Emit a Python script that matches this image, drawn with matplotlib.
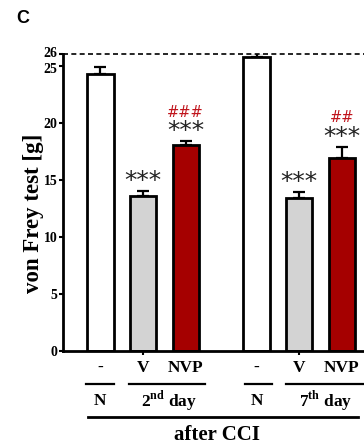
import matplotlib
matplotlib.use("Agg")
import matplotlib.pyplot as plt
import matplotlib.transforms as mtransforms

plt.rcParams['font.family'] = ['Liberation Serif', 'DejaVu Serif']
plt.rcParams['font.weight'] = 'bold'
plt.rcParams['mathtext.fontset'] = 'custom'
plt.rcParams['mathtext.bf'] = 'Liberation Serif:bold'
plt.rcParams['mathtext.rm'] = 'Liberation Serif:bold'

# data
groups = ["-", "V", "NVP", "-", "V", "NVP"]
means = [24.3, 13.6, 18.1, 25.8, 13.4, 16.9]
sems = [0.6, 0.4, 0.3, 0.3, 0.55, 1.0]
stars = ["", "***", "***", "", "***", "***"]
hashes = ["", "", "###", "", "", "##"]
yticks = [0, 5, 10, 15, 20, 25, 26]

pos = [0, 1, 2, 3.66, 4.66, 5.66]
fills = ["white", "#d3d3d3", "#a50000", "white", "#d3d3d3", "#a50000"]

fig = plt.figure(figsize=(3.64, 4.46), dpi=100)
ax = fig.add_axes([0.173, 0.213, 0.83, 0.665])

ax.bar(pos, means, width=0.62, color=fills, edgecolor="black", linewidth=2, zorder=2)
ax.errorbar(pos, means, yerr=[[0] * len(sems), sems], fmt="none", ecolor="black",
            elinewidth=1.6, capsize=4.5, capthick=1.6, zorder=1)

# significance marks
for x, m, s, st, h in zip(pos, means, sems, stars, hashes):
    if st:
        ax.text(x, m + s + 0.87, st, ha="center", va="center", fontsize=18,
                family="DejaVu Sans", fontweight="normal", color="#222222")
    if h:
        ax.text(x, m + s + 2.55, h, ha="center", va="center", fontsize=10.5,
                family="DejaVu Sans", fontweight="normal", color="#c0141c")

ax.axhline(26, color="black", linestyle=(0, (3, 2)), linewidth=1.2, clip_on=False)

ax.set_xlim(-0.878, 6.204)
ax.set_ylim(0, 26)
ax.set_yticks(yticks)
ax.set_yticklabels([str(t) for t in yticks], fontsize=10, fontweight="bold")
ax.set_xticks([1, 4.66])
ax.set_xticklabels([])
ax.tick_params(axis="both", direction="out", length=3, width=1.5, pad=1)
ax.spines["top"].set_visible(False)
ax.spines["right"].set_visible(False)
ax.spines["left"].set_linewidth(2)
ax.spines["bottom"].set_linewidth(2)
ax.set_ylabel("von Frey test [g]", fontsize=16.5, fontweight="bold", labelpad=0)
ax.yaxis.label.set_y(0.465)

# pull the 25 / 26 labels apart a little
labs = ax.get_yticklabels()
labs[-1].set_transform(labs[-1].get_transform() + mtransforms.ScaledTranslation(0, 2 / 72, fig.dpi_scale_trans))
labs[-2].set_transform(labs[-2].get_transform() + mtransforms.ScaledTranslation(0, -1.5 / 72, fig.dpi_scale_trans))

# group labels under the axis
tr = mtransforms.blended_transform_factory(ax.transData, ax.transAxes)
for x, g in zip(pos, groups):
    ax.text(x, -0.057, g, transform=tr, ha="center", va="center", fontsize=12.5, fontweight="bold")

for x0, x1 in [(-0.33, 0.31), (0.675, 2.46), (3.38, 4.03), (4.34, 6.15)]:
    ax.plot([x0, x1], [-0.111, -0.111], transform=tr, color="black", lw=1.6, clip_on=False)

ax.text(0, -0.169, "N", transform=tr, ha="center", va="center", fontsize=12.5, fontweight="bold")
ax.text(3.66, -0.169, "N", transform=tr, ha="center", va="center", fontsize=12.5, fontweight="bold")
ax.text(1.6, -0.169, r"2$^{\mathbf{nd}}$ day", transform=tr, ha="center", va="center",
        fontsize=12.5, fontweight="bold")
ax.text(5.27, -0.169, r"7$^{\mathbf{th}}$ day", transform=tr, ha="center", va="center",
        fontsize=12.5, fontweight="bold")

ax.plot([-0.29, 6.04], [-0.222, -0.222], transform=tr, color="black", lw=2, clip_on=False)
ax.text(2.73, -0.283, "after CCI", transform=tr, ha="center", va="center", fontsize=15,
        fontweight="bold")

fig.text(0.063, 0.958, "C", fontsize=13, fontweight="bold", family="Liberation Sans",
         ha="center", va="center")

fig.savefig("out.png", dpi=100)
